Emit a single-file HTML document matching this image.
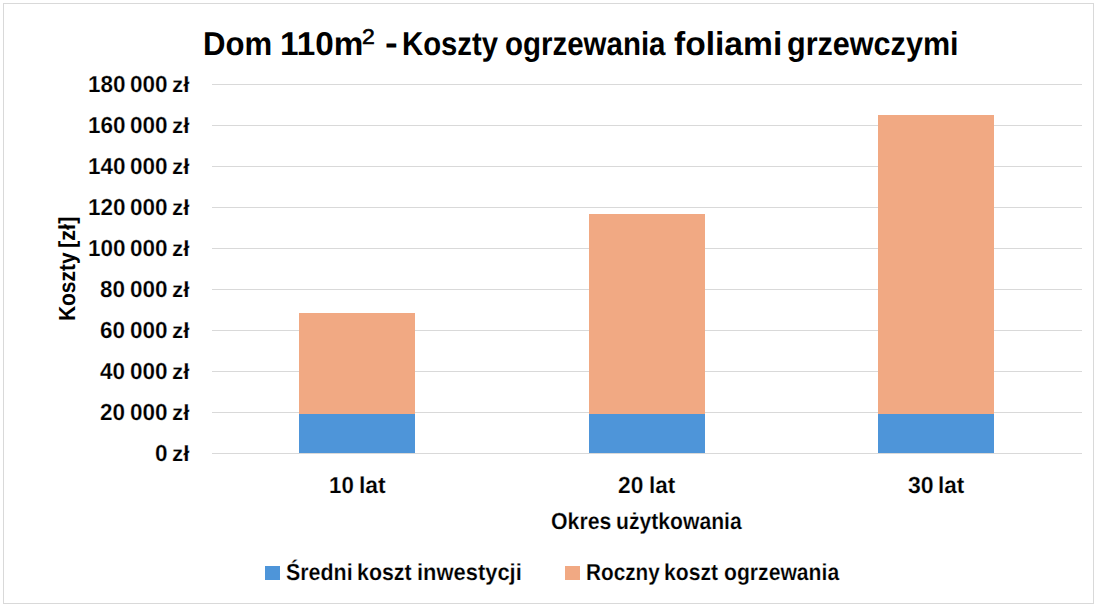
<!DOCTYPE html>
<html><head><meta charset="utf-8"><style>
html,body{margin:0;padding:0;background:#fff;width:1097px;height:607px;overflow:hidden}
.frame{position:absolute;left:3px;top:3px;width:1089px;height:599px;border:1px solid #d9d9d9;background:#fff}
.t{position:absolute;white-space:pre;text-rendering:geometricPrecision;font-family:'Liberation Sans', sans-serif;color:#000000;transform-origin:0 0}
.g{position:absolute;left:212px;width:870px;height:1px;background:#d9d9d9}
.b{position:absolute}
.sq{position:absolute;height:14px}
</style></head><body>
<div class="frame"></div>
<div class="g" style="top:84px"></div><div class="g" style="top:125px"></div><div class="g" style="top:166px"></div><div class="g" style="top:207px"></div><div class="g" style="top:248px"></div><div class="g" style="top:289px"></div><div class="g" style="top:330px"></div><div class="g" style="top:371px"></div><div class="g" style="top:412px"></div><div class="g" style="top:453px"></div>
<div class="b" style="left:299.2px;top:313.2px;width:116.1px;height:140.1px;background:#f1a983"></div><div class="b" style="left:299.2px;top:413.5px;width:116.1px;height:39.8px;background:#4e95d9"></div><div class="b" style="left:588.7px;top:214.0px;width:116.1px;height:239.3px;background:#f1a983"></div><div class="b" style="left:588.7px;top:413.5px;width:116.1px;height:39.8px;background:#4e95d9"></div><div class="b" style="left:878.2px;top:114.8px;width:116.1px;height:338.5px;background:#f1a983"></div><div class="b" style="left:878.2px;top:413.5px;width:116.1px;height:39.8px;background:#4e95d9"></div>
<div class="sq" style="left:265px;top:566px;width:15.3px;background:#4e95d9"></div>
<div class="sq" style="left:565px;top:566px;width:14.5px;background:#f1a983"></div>
<div class="t" style="left:384.54px;top:25.70px;font-size:33px;line-height:33px;font-weight:700;transform:scaleX(1.1562)">-</div><div class="t" style="left:202.94px;top:26.70px;font-size:33px;line-height:33px;font-weight:700;transform:scaleX(0.9431)">Dom</div><div class="t" style="left:279.51px;top:26.70px;font-size:33px;line-height:33px;font-weight:700;transform:scaleX(1.0086)">110m</div><div class="t" style="left:401.96px;top:26.70px;font-size:33px;line-height:33px;font-weight:700;transform:scaleX(0.8880)">Koszty</div><div class="t" style="left:505.14px;top:26.70px;font-size:33px;line-height:33px;font-weight:700;transform:scaleX(0.8929)">ogrzewania</div><div class="t" style="left:674.32px;top:26.70px;font-size:33px;line-height:33px;font-weight:700;transform:scaleX(1.0179)">foliami</div><div class="t" style="left:787.25px;top:26.70px;font-size:33px;line-height:33px;font-weight:700;transform:scaleX(0.9262)">grzewczymi</div><div class="t" style="left:361.85px;top:26.81px;font-size:21.3px;line-height:21.3px;font-weight:400;transform:scaleX(1.0770);-webkit-text-stroke:0.6px #000">2</div><div class="t" style="left:87.77px;top:72.70px;font-size:23.2px;line-height:23.2px;font-weight:700;transform:scaleX(0.9711);-webkit-text-stroke:0.2px #fff">180</div><div class="t" style="left:130.47px;top:72.70px;font-size:23.2px;line-height:23.2px;font-weight:700;transform:scaleX(0.9711);-webkit-text-stroke:0.2px #fff">000</div><div class="t" style="left:172.04px;top:73.70px;font-size:22px;line-height:22px;font-weight:700;transform:scaleX(1.0200);-webkit-text-stroke:0.2px #fff">zł</div><div class="t" style="left:87.77px;top:113.70px;font-size:23.2px;line-height:23.2px;font-weight:700;transform:scaleX(0.9711);-webkit-text-stroke:0.2px #fff">160</div><div class="t" style="left:130.47px;top:113.70px;font-size:23.2px;line-height:23.2px;font-weight:700;transform:scaleX(0.9711);-webkit-text-stroke:0.2px #fff">000</div><div class="t" style="left:172.04px;top:114.70px;font-size:22px;line-height:22px;font-weight:700;transform:scaleX(1.0200);-webkit-text-stroke:0.2px #fff">zł</div><div class="t" style="left:87.77px;top:154.70px;font-size:23.2px;line-height:23.2px;font-weight:700;transform:scaleX(0.9711);-webkit-text-stroke:0.2px #fff">140</div><div class="t" style="left:130.47px;top:154.70px;font-size:23.2px;line-height:23.2px;font-weight:700;transform:scaleX(0.9711);-webkit-text-stroke:0.2px #fff">000</div><div class="t" style="left:172.04px;top:155.70px;font-size:22px;line-height:22px;font-weight:700;transform:scaleX(1.0200);-webkit-text-stroke:0.2px #fff">zł</div><div class="t" style="left:87.77px;top:195.70px;font-size:23.2px;line-height:23.2px;font-weight:700;transform:scaleX(0.9711);-webkit-text-stroke:0.2px #fff">120</div><div class="t" style="left:130.47px;top:195.70px;font-size:23.2px;line-height:23.2px;font-weight:700;transform:scaleX(0.9711);-webkit-text-stroke:0.2px #fff">000</div><div class="t" style="left:172.04px;top:196.70px;font-size:22px;line-height:22px;font-weight:700;transform:scaleX(1.0200);-webkit-text-stroke:0.2px #fff">zł</div><div class="t" style="left:87.77px;top:236.70px;font-size:23.2px;line-height:23.2px;font-weight:700;transform:scaleX(0.9711);-webkit-text-stroke:0.2px #fff">100</div><div class="t" style="left:130.47px;top:236.70px;font-size:23.2px;line-height:23.2px;font-weight:700;transform:scaleX(0.9711);-webkit-text-stroke:0.2px #fff">000</div><div class="t" style="left:172.04px;top:237.70px;font-size:22px;line-height:22px;font-weight:700;transform:scaleX(1.0200);-webkit-text-stroke:0.2px #fff">zł</div><div class="t" style="left:100.21px;top:277.70px;font-size:23.2px;line-height:23.2px;font-weight:700;transform:scaleX(0.9711);-webkit-text-stroke:0.2px #fff">80</div><div class="t" style="left:130.47px;top:277.70px;font-size:23.2px;line-height:23.2px;font-weight:700;transform:scaleX(0.9711);-webkit-text-stroke:0.2px #fff">000</div><div class="t" style="left:172.04px;top:278.70px;font-size:22px;line-height:22px;font-weight:700;transform:scaleX(1.0200);-webkit-text-stroke:0.2px #fff">zł</div><div class="t" style="left:100.21px;top:318.70px;font-size:23.2px;line-height:23.2px;font-weight:700;transform:scaleX(0.9711);-webkit-text-stroke:0.2px #fff">60</div><div class="t" style="left:130.47px;top:318.70px;font-size:23.2px;line-height:23.2px;font-weight:700;transform:scaleX(0.9711);-webkit-text-stroke:0.2px #fff">000</div><div class="t" style="left:172.04px;top:319.70px;font-size:22px;line-height:22px;font-weight:700;transform:scaleX(1.0200);-webkit-text-stroke:0.2px #fff">zł</div><div class="t" style="left:100.21px;top:359.70px;font-size:23.2px;line-height:23.2px;font-weight:700;transform:scaleX(0.9711);-webkit-text-stroke:0.2px #fff">40</div><div class="t" style="left:130.47px;top:359.70px;font-size:23.2px;line-height:23.2px;font-weight:700;transform:scaleX(0.9711);-webkit-text-stroke:0.2px #fff">000</div><div class="t" style="left:172.04px;top:360.70px;font-size:22px;line-height:22px;font-weight:700;transform:scaleX(1.0200);-webkit-text-stroke:0.2px #fff">zł</div><div class="t" style="left:100.21px;top:400.70px;font-size:23.2px;line-height:23.2px;font-weight:700;transform:scaleX(0.9711);-webkit-text-stroke:0.2px #fff">20</div><div class="t" style="left:130.47px;top:400.70px;font-size:23.2px;line-height:23.2px;font-weight:700;transform:scaleX(0.9711);-webkit-text-stroke:0.2px #fff">000</div><div class="t" style="left:172.04px;top:401.70px;font-size:22px;line-height:22px;font-weight:700;transform:scaleX(1.0200);-webkit-text-stroke:0.2px #fff">zł</div><div class="t" style="left:155.13px;top:441.70px;font-size:23.2px;line-height:23.2px;font-weight:700;transform:scaleX(0.9711);-webkit-text-stroke:0.2px #fff">0</div><div class="t" style="left:172.04px;top:442.70px;font-size:22px;line-height:22px;font-weight:700;transform:scaleX(1.0200);-webkit-text-stroke:0.2px #fff">zł</div><div class="t" style="left:329.16px;top:474.10px;font-size:23.2px;line-height:23.2px;font-weight:700;transform:scaleX(0.9608);-webkit-text-stroke:0.2px #fff">10</div><div class="t" style="left:358.77px;top:474.10px;font-size:23.2px;line-height:23.2px;font-weight:700;transform:scaleX(0.9879);-webkit-text-stroke:0.2px #fff">lat</div><div class="t" style="left:618.24px;top:474.10px;font-size:23.2px;line-height:23.2px;font-weight:700;transform:scaleX(0.9815);-webkit-text-stroke:0.2px #fff">20</div><div class="t" style="left:648.80px;top:474.10px;font-size:23.2px;line-height:23.2px;font-weight:700;transform:scaleX(0.9720);-webkit-text-stroke:0.2px #fff">lat</div><div class="t" style="left:907.61px;top:474.10px;font-size:23.2px;line-height:23.2px;font-weight:700;transform:scaleX(0.9947);-webkit-text-stroke:0.2px #fff">30</div><div class="t" style="left:938.10px;top:474.10px;font-size:23.2px;line-height:23.2px;font-weight:700;transform:scaleX(0.9720);-webkit-text-stroke:0.2px #fff">lat</div><div class="t" style="left:550.57px;top:510.00px;font-size:23.2px;line-height:23.2px;font-weight:700;transform:scaleX(0.9184);-webkit-text-stroke:0.2px #fff">Okres</div><div class="t" style="left:616.08px;top:510.00px;font-size:23.2px;line-height:23.2px;font-weight:700;transform:scaleX(0.9121);-webkit-text-stroke:0.2px #fff">użytkowania</div><div class="t" style="left:286.11px;top:560.80px;font-size:23.2px;line-height:23.2px;font-weight:700;transform:scaleX(0.9236);-webkit-text-stroke:0.2px #fff">Średni</div><div class="t" style="left:357.19px;top:560.80px;font-size:23.2px;line-height:23.2px;font-weight:700;transform:scaleX(0.9219);-webkit-text-stroke:0.2px #fff">koszt</div><div class="t" style="left:416.95px;top:560.80px;font-size:23.2px;line-height:23.2px;font-weight:700;transform:scaleX(0.9454);-webkit-text-stroke:0.2px #fff">inwestycji</div><div class="t" style="left:585.84px;top:560.80px;font-size:23.2px;line-height:23.2px;font-weight:700;transform:scaleX(0.8952);-webkit-text-stroke:0.2px #fff">Roczny</div><div class="t" style="left:664.40px;top:560.80px;font-size:23.2px;line-height:23.2px;font-weight:700;transform:scaleX(0.9132);-webkit-text-stroke:0.2px #fff">koszt</div><div class="t" style="left:724.32px;top:560.80px;font-size:23.2px;line-height:23.2px;font-weight:700;transform:scaleX(0.9118);-webkit-text-stroke:0.2px #fff">ogrzewania</div><div class="t" style="left:56.20px;top:320.77px;font-size:23.2px;line-height:23.2px;font-weight:700;transform:rotate(-90deg) scaleX(0.9012)">Koszty</div><div class="t" style="left:56.20px;top:248.19px;font-size:23.2px;line-height:23.2px;font-weight:700;transform:rotate(-90deg) scaleX(0.9375)">[zł]</div>
</body></html>
